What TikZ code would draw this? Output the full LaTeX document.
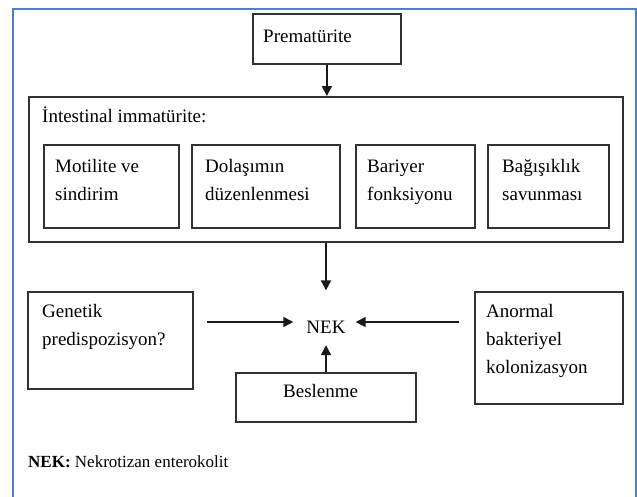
\documentclass[tikz,border=0pt]{standalone}
\usepackage{fontspec}
\setmainfont{Liberation Serif}
\usetikzlibrary{arrows.meta}
\newcommand\vlines[1]{\vtop{\baselineskip=28pt\lineskiplimit=-100pt\relax #1}}
\definecolor{framecol}{RGB}{79,129,189}
\definecolor{linecol}{RGB}{50,50,50}
\begin{document}
\begin{tikzpicture}[x=1pt,y=-1pt,
  box/.style={draw=linecol,line width=1.8pt,minimum width=#1,inner sep=0pt,anchor=north west},
  txt/.style={inner sep=0pt,anchor=base west,font=\fontsize{19}{28}\selectfont,text=black},
  arr/.style={draw=black!90,line width=1.8pt,-{Triangle[length=10pt,width=10pt]}}]
\useasboundingbox (0,0) rectangle (637,496);
\fill[white] (0,0) rectangle (637,496);
\begin{scope}
\clip (0,0) rectangle (637,496);
\draw[framecol,line width=2pt] (12.5,9) rectangle (636,520);
\end{scope}
% boxes
\node[box=148pt,minimum height=50pt] (prem) at (252,13) {};
\node[box=594pt,minimum height=145pt] (imm) at (28,96) {};
\node[box=135pt,minimum height=83pt] (s1) at (43,144) {};
\node[box=148pt,minimum height=83pt] (s2) at (191,144) {};
\node[box=119pt,minimum height=83pt] (s3) at (355,144) {};
\node[box=121pt,minimum height=83pt] (s4) at (487,144) {};
\node[box=165pt,minimum height=97pt] (gen) at (27,291) {};
\node[box=148pt,minimum height=112pt] (ano) at (474,291) {};
\node[box=180pt,minimum height=49pt] (bes) at (235,372) {};
% texts
\node[txt] (tprem) at (263,42) {Prematürite};
\node[txt] (timm) at (42,122) {İntestinal immatürite:};
\node[txt] (ts1) at (55,172) {\vlines{\hbox{Motilite ve}\hbox{sindirim}}};
\node[txt] (ts2) at (205,172) {\vlines{\hbox{Dolaşımın}\hbox{düzenlenmesi}}};
\node[txt] (ts3) at (367,172) {\vlines{\hbox{Bariyer}\hbox{fonksiyonu}}};
\node[txt] (ts4) at (502,172) {\vlines{\hbox{Bağışıklık}\hbox{savunması}}};
\node[txt] (tgen) at (42,317) {\vlines{\hbox{Genetik}\hbox{predispozisyon?}}};
\node[txt] (tano) at (486,317) {\vlines{\hbox{Anormal}\hbox{bakteriyel}\hbox{kolonizasyon}}};
\node[txt] (tbes) at (283,397) {Beslenme};
\node[txt,anchor=base] (nek) at (326,333) {NEK};
\node[txt,font=\fontsize{17}{20}\selectfont] (foot) at (28,467) {\textbf{NEK:} Nekrotizan enterokolit};
% connectors
\coordinate (gtail) at (207,322);
\coordinate (atail) at (459,322);
\draw[arr] (prem.south) -- (prem.south |- imm.north);
\draw[arr] (imm.south -| nek) -- ([yshift=30pt]nek.north);
\draw[arr] (gtail) -- ([xshift=-13pt]nek.west |- gtail);
\draw[arr] (atail) -- ([xshift=10pt]nek.east |- atail);
\draw[arr] (bes.north -| nek) -- ([yshift=-12pt]nek.south);
\end{tikzpicture}
\end{document}
